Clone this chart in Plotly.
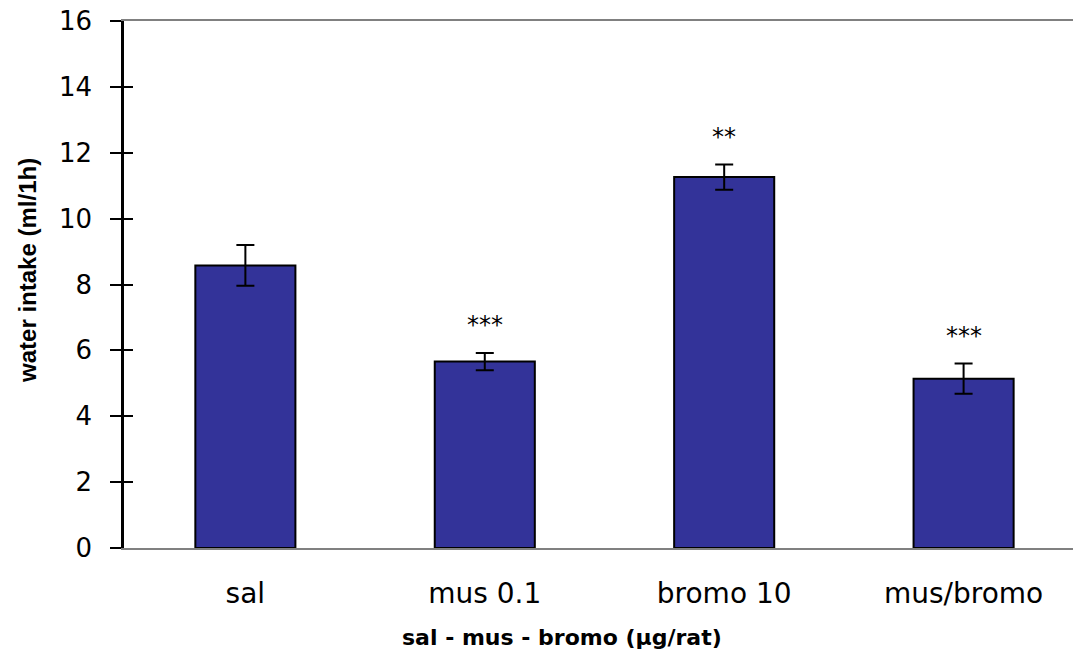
import plotly.graph_objects as go

categories = ["sal", "mus 0.1", "bromo 10", "mus/bromo"]
means = [8.58, 5.66, 11.26, 5.14]
sems = [0.62, 0.26, 0.38, 0.46]
significance = ["", "***", "**", "***"]
y_ticks = [0, 2, 4, 6, 8, 10, 12, 14, 16]

BAR_COLOR = "#333399"
HFONT = "DejaVu Sans"

fig = go.Figure()
fig.add_trace(go.Bar(
    x=categories, y=means,
    marker=dict(color=BAR_COLOR, line=dict(color="black", width=2)),
    error_y=dict(type="data", array=sems, visible=True, color="black",
                 thickness=2, width=9),
    showlegend=False, hoverinfo="x+y",
))
# empty trace to carry the inner half of the crossing ticks
fig.add_trace(go.Scatter(x=[], y=[], yaxis="y2", showlegend=False))

for cat, m, s, sig in zip(categories, means, sems, significance):
    if sig:
        fig.add_annotation(x=cat, y=m + s, text=sig, showarrow=False,
                           yanchor="middle", yshift=28,
                           font=dict(family=HFONT, size=24, color="black"))

fig.add_annotation(xref="paper", yref="paper", x=(562 - 124) / 949, y=-0.17,
                   text="<b>sal - mus - bromo (µg/rat)</b>", showarrow=False,
                   xanchor="center", yanchor="middle",
                   font=dict(family=HFONT, size=22, color="black"))
fig.add_annotation(xref="paper", yref="paper", x=-0.101, y=(548.5 - 271) / 527.5,
                   text="<b>water intake (ml/1h)</b>", showarrow=False, textangle=-90,
                   xanchor="center", yanchor="middle",
                   font=dict(family="Liberation Sans", size=24, color="black"))

fig.update_layout(
    width=1073, height=653,
    margin=dict(l=124, r=0, t=21, b=105, pad=0),
    paper_bgcolor="white", plot_bgcolor="white",
    bargap=0.582,
    xaxis=dict(
        range=[-0.507, 3.457], showgrid=False, zeroline=False,
        showline=True, linecolor="#808080", linewidth=2, mirror=True,
        ticks="", tickfont=dict(family=HFONT, size=28, color="black"),
        ticklabelstandoff=19,
    ),
    yaxis=dict(
        range=[0, 16], tickvals=y_ticks, showgrid=False, zeroline=False,
        showline=True, linecolor="black", linewidth=2.5,
        ticks="outside", ticklen=11, tickwidth=2, tickcolor="black",
        tickfont=dict(family=HFONT, size=26, color="black"),
        ticklabelstandoff=13,
    ),
    yaxis2=dict(
        range=[0, 16], tickvals=y_ticks, overlaying="y", side="left",
        showgrid=False, zeroline=False, showline=False,
        ticks="inside", ticklen=9, tickwidth=2, tickcolor="black",
        showticklabels=False,
    ),
)

fig.write_html("out.html")
